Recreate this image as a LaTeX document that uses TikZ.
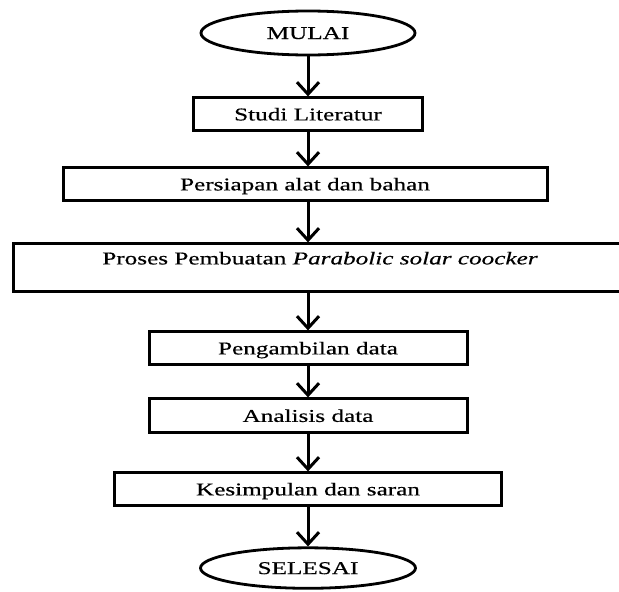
\documentclass[tikz,border=0pt]{standalone}
\usepackage{fontspec}
\setmainfont{Liberation Serif}[FakeStretch=1.4,FakeBold=0.5]
\usetikzlibrary{shapes.geometric,arrows.meta,positioning}
\tikzset{flowbox/.style={draw, line width=3pt, minimum height=33pt, inner sep=0pt,
		text height=12pt, text depth=0pt, align=center, font=\fontsize{18}{20}\selectfont}}
\tikzset{flowend/.style={ellipse, draw, line width=2.8pt, inner sep=0pt,
		text height=12pt, text depth=0pt, font=\fontsize{18}{20}\selectfont}}
\tikzset{flowarrow/.style={-{Straight Barb[length=12pt,width=22pt]}, line width=3pt}}

\begin{document}
\begin{tikzpicture}[x=1pt, y=-1pt]
	\useasboundingbox (0,0) rectangle (619,592);
	\clip (0,0) rectangle (619,592);
	\node (mulai) [flowend, minimum width=214pt, minimum height=44pt] at (308,33) {MULAI};
	\node (studi) [flowbox, below=40pt of mulai, minimum width=229pt] {Studi Literatur};
	\node (persiapan) [flowbox, below=34pt of studi, minimum width=484pt, xshift=-3pt] {Persiapan alat dan bahan};
	% wide box, runs past the right edge
	\node (proses) [flowbox, below=40pt of persiapan, xshift=15pt, minimum width=613pt,
		minimum height=48pt, text height=16pt, text depth=23pt]
		{Proses Pembuatan \textit{Parabolic solar coocker}};
	\node (ambil) [flowbox, below=37pt of proses, xshift=-12pt, minimum width=318pt] {Pengambilan data};
	\node (analisis) [flowbox, below=31pt of ambil, minimum width=318pt, minimum height=34pt] {Analisis data};
	\node (simpulan) [flowbox, below=37pt of analisis, minimum width=387pt] {Kesimpulan dan saran};
	\node (selesai) [flowend, below=39pt of simpulan, minimum width=215pt, minimum height=40.5pt] {SELESAI};
	
	\draw[flowarrow] (mulai) -- (studi);
	\draw[flowarrow] (studi) -- (studi |- persiapan.north);
	\draw[flowarrow] (studi |- persiapan.south) -- (studi |- proses.north);
	\draw[flowarrow] (ambil |- proses.south) -- (ambil);
	\draw[flowarrow] (ambil) -- (analisis);
	\draw[flowarrow] (analisis) -- (simpulan);
	\draw[flowarrow] (simpulan) -- (selesai);
\end{tikzpicture}
\end{document}
